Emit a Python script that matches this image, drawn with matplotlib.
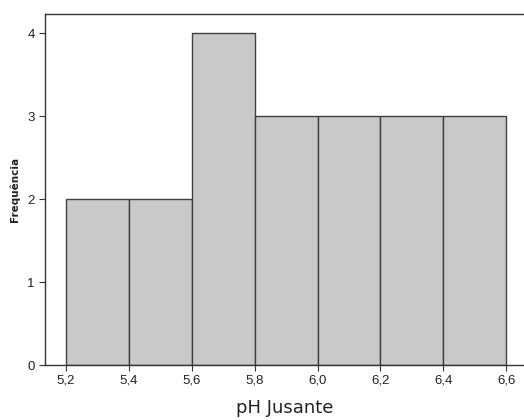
import numpy as np
import matplotlib
matplotlib.use('Agg')
from matplotlib import pyplot as plt
from matplotlib.ticker import FuncFormatter

# Classes de pH (bornes) et frequences observees
bin_edges = [5.2, 5.4, 5.6, 5.8, 6.0, 6.2, 6.4, 6.6]
counts = [2, 2, 4, 3, 3, 3, 3]
y_ticks = [0, 1, 2, 3, 4]

plt.rcParams['font.family'] = ['Liberation Sans', 'DejaVu Sans']

fig = plt.figure(figsize=(5.24, 4.2), dpi=100)
ax = fig.add_axes([45 / 524, 55 / 420, 1 - 45 / 524, (365 - 14) / 420])

left = np.array(bin_edges[:-1])
width = np.diff(bin_edges)
ax.bar(left, counts, width=width, align='edge', color='#c8c9cb',
       edgecolor='#404040', linewidth=1.0)

ax.set_xlim(5.133, 6.657)
ax.set_ylim(0, 4.229)
ax.set_xticks(bin_edges)
ax.set_yticks(y_ticks)
ax.xaxis.set_major_formatter(FuncFormatter(lambda v, p: f'{v:.1f}'.replace('.', ',')))

ax.spines['right'].set_visible(False)
for s in ['left', 'bottom', 'top']:
    ax.spines[s].set_color('#333333')
    ax.spines[s].set_linewidth(1.0)

ax.tick_params(axis='both', direction='out', length=4, width=0.8,
               colors='#333333', labelsize=9.5, labelcolor='#222222')
ax.tick_params(axis='x', pad=3)

ax.set_xlabel('pH Jusante', fontsize=13, family='DejaVu Sans', color='#222222',
              labelpad=9)
ax.set_ylabel('Frequência', fontsize=7.5, fontweight='bold', family='DejaVu Sans',
              color='#222222', labelpad=5)

fig.savefig('out.png', dpi=100)
